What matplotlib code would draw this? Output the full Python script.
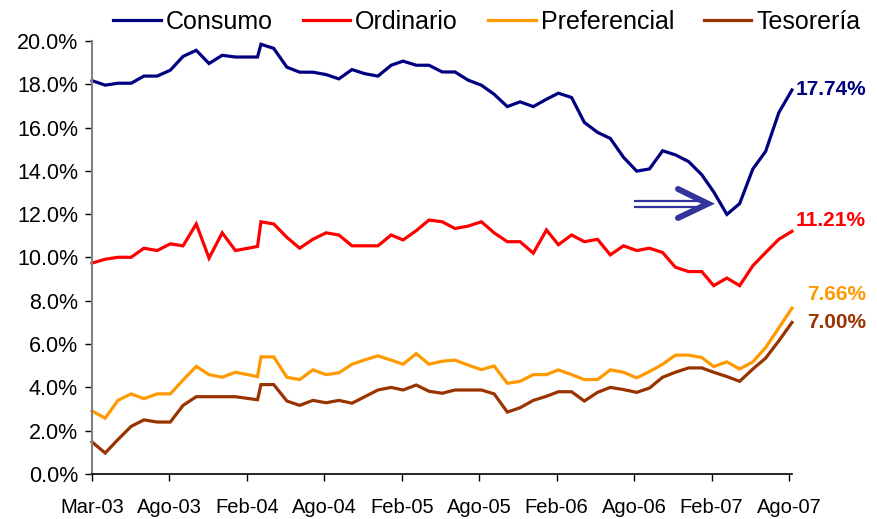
import matplotlib
matplotlib.use("Agg")
import matplotlib.pyplot as plt
from matplotlib import font_manager
import pandas as pd

# ---------- data ----------
dates = list(pd.date_range("2003-03-01", "2007-09-01", freq="MS"))
dates[12] = pd.Timestamp("2004-03-24")  # this point sits late in the month on the source date axis

consumo = [18.17, 17.96, 18.05, 18.05, 18.38, 18.38, 18.65, 19.29, 19.57, 18.96,
           19.34, 19.26, 19.26, 19.85, 19.66, 18.79, 18.56, 18.56, 18.45, 18.25,
           18.68, 18.49, 18.38, 18.88, 19.07, 18.88, 18.88, 18.57, 18.57, 18.19,
           17.96, 17.54, 16.97, 17.19, 16.97, 17.31, 17.59, 17.39, 16.24, 15.78,
           15.50, 14.63, 13.99, 14.09, 14.93, 14.74, 14.43, 13.82, 13.03, 11.99,
           12.49, 14.09, 14.90, 16.69, 17.74]
ordinario = [9.74, 9.92, 10.01, 10.01, 10.43, 10.32, 10.63, 10.54, 11.55, 9.97,
             11.14, 10.32, 10.51, 11.65, 11.55, 10.93, 10.43, 10.84, 11.14, 11.04,
             10.54, 10.54, 10.54, 11.04, 10.81, 11.24, 11.73, 11.65, 11.34, 11.45,
             11.65, 11.14, 10.73, 10.73, 10.20, 11.27, 10.59, 11.04, 10.73, 10.84,
             10.12, 10.54, 10.32, 10.43, 10.23, 9.55, 9.35, 9.35, 8.70, 9.05,
             8.70, 9.62, 10.23, 10.84, 11.21]
preferencial = [2.91, 2.58, 3.40, 3.70, 3.48, 3.70, 3.70, 4.34, 4.97, 4.59,
                4.47, 4.70, 4.50, 5.41, 5.41, 4.47, 4.36, 4.81, 4.59, 4.67,
                5.07, 5.27, 5.46, 5.26, 5.07, 5.56, 5.07, 5.21, 5.26, 5.03,
                4.82, 4.99, 4.19, 4.28, 4.59, 4.59, 4.81, 4.59, 4.36, 4.36,
                4.81, 4.70, 4.44, 4.73, 5.07, 5.49, 5.49, 5.38, 4.96, 5.18,
                4.85, 5.18, 5.84, 6.75, 7.66]
tesoreria = [1.48, 0.97, 1.59, 2.20, 2.50, 2.40, 2.40, 3.17, 3.57, 3.57,
             3.57, 3.57, 3.43, 4.13, 4.13, 3.37, 3.17, 3.40, 3.29, 3.40,
             3.27, 3.57, 3.88, 4.00, 3.88, 4.11, 3.82, 3.73, 3.88, 3.88,
             3.88, 3.70, 2.86, 3.06, 3.40, 3.59, 3.80, 3.80, 3.37, 3.77,
             4.00, 3.90, 3.77, 3.97, 4.47, 4.70, 4.90, 4.90, 4.70, 4.50,
             4.28, 4.85, 5.35, 6.15, 7.00]

names = ["Consumo", "Ordinario", "Preferencial", "Tesorería"]
series = [consumo, ordinario, preferencial, tesoreria]
colors = ["#000080", "#FF0000", "#FF9900", "#993300"]
label_dy = [0, 8, 10, 0]  # points, nudges for the end labels

MESES = {1: "Ene", 2: "Feb", 3: "Mar", 4: "Abr", 5: "May", 6: "Jun",
         7: "Jul", 8: "Ago", 9: "Sep", 10: "Oct", 11: "Nov", 12: "Dic"}

# ---------- fonts ----------
available = {f.name for f in font_manager.fontManager.ttflist}
FONT = "Liberation Sans Narrow" if "Liberation Sans Narrow" in available else "Liberation Sans"
plt.rcParams["font.family"] = [FONT, "DejaVu Sans"]

# ---------- chart ----------
fig = plt.figure(figsize=(8.78, 5.19), dpi=100)
ax = fig.add_axes([92 / 878, 1 - 474 / 519, 700 / 878, 433 / 519])

for name, vals, c in zip(names, series, colors):
    ax.plot(dates, vals, color=c, lw=2.3, label=name, clip_on=False,
            solid_joinstyle="miter")

start = pd.Timestamp("2003-03-01")
end = pd.Timestamp("2007-09-01")
ax.set_xlim(start, end)
ax.set_ylim(0, 20)

ticks = [start + pd.Timedelta(days=182 * k) for k in range(10)]
ax.set_xticks(ticks)
ax.set_xticklabels([f"{MESES[t.month]}-{t.strftime('%y')}" for t in ticks])
ax.set_yticks(range(0, 21, 2))
ax.set_yticklabels([f"{v:.1f}%" for v in range(0, 21, 2)])

for s in ["top", "right"]:
    ax.spines[s].set_visible(False)
ax.spines["left"].set_color("#808080")
ax.spines["left"].set_linewidth(1.5)
ax.spines["bottom"].set_color("black")
ax.spines["bottom"].set_linewidth(1.2)
ax.tick_params(axis="y", direction="out", length=5, width=1, labelsize=15.5, pad=5)
ax.tick_params(axis="x", direction="out", length=5, width=1, labelsize=14.5, pad=12)

# end-of-series value labels
for vals, c, dy in zip(series, colors, label_dy):
    ax.annotate(f"{vals[-1]:.2f}%", xy=(1, vals[-1]), xycoords=("figure fraction", "data"),
                xytext=(-8.6, dy), textcoords="offset points", ha="right", va="center",
                color=c, fontsize=15, fontweight="bold", annotation_clip=False)

# double-shafted arrow pointing at the trough
px = lambda x: (x - 92) / 700
py = lambda y: (474 - y) / 433
arrow_c = "#333399"
for yy in (200.7, 206.7):
    ax.plot([px(635), px(698)], [py(yy), py(yy)], transform=ax.transAxes,
            color=arrow_c, lw=1.6, clip_on=False)
ax.plot([px(678), px(708), px(678)], [py(189), py(203.7), py(218)],
        transform=ax.transAxes, color=arrow_c, lw=4.3, clip_on=False,
        solid_capstyle="round", solid_joinstyle="miter")

fig.legend(loc="center", bbox_to_anchor=(487 / 878, 1 - 22 / 519), ncol=4,
           frameon=False, fontsize=18, handlelength=1.9, handletextpad=0.2,
           columnspacing=1.2, borderaxespad=0)

fig.savefig("out.png", dpi=100)
